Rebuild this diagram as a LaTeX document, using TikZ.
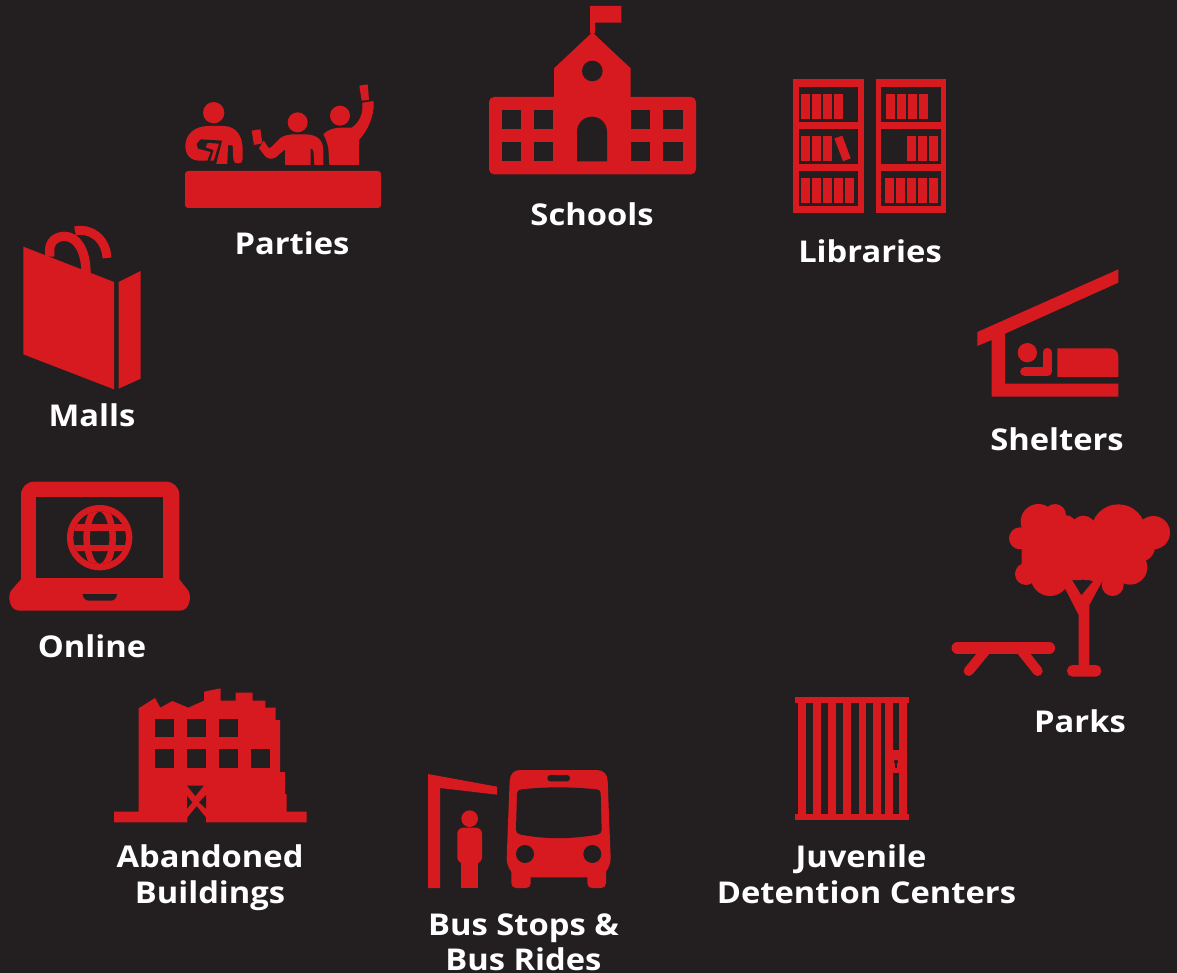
\documentclass[tikz,border=0pt]{standalone}
\usepackage{fontspec}
\setmainfont{Open Sans}[FakeStretch=1.09]
\definecolor{bgc}{RGB}{35,31,32}
\definecolor{redc}{RGB}{215,25,32}
\tikzset{
  x=1pt,y=-1pt,
  zoomat/.style 2 args={shift={(#1pt,-#2pt)},x=0.33333pt,y=-0.33333pt},
  rd/.style={fill=redc,draw=none},
  dk/.style={fill=bgc,draw=none},
  lbl/.style={text=white,font=\fontsize{30}{30}\selectfont\bfseries,anchor=base,inner sep=0pt,outer sep=0pt}
}
\begin{document}
\begin{tikzpicture}
\useasboundingbox (0,0) rectangle (1177,973);
\fill[bgc] (0,0) rectangle (1177,973);

% Schools
\begin{scope}[zoomat={480}{0}]
\path[rd] (330,18) -- (424,18) -- (424,68) -- (345,68) -- (345,100) -- (330,100) -- cycle;
\path[rd] (337,97) -- (452,205) -- (452,292) -- (222,292) -- (222,205) -- cycle;
\path[rd,rounded corners=5pt] (27,291) rectangle (648,523);
\path[dk] (337,213) circle (31);
\foreach \a in {66,162,453,550}{\foreach \b in {330,427}{
  \path[dk] (\a,\b) rectangle ++(58,57);}}
\path[dk] (291,484) -- (291,395) arc[start angle=180,end angle=360,x radius=45,y radius=45] -- (381,484) -- cycle;
\end{scope}

% Libraries
\begin{scope}[zoomat={780}{70}]
\foreach \o in {40,287}{
  \path[rd] (\o,28) rectangle ++(211,400);
  \foreach \b/\c in {50/155,178/281,303/407}{
    \path[dk] (\o+17,\b) rectangle (\o+195,\c);}}
\foreach \a in {63,96,129,162}{\path[rd] (\a,72) rectangle ++(27,75);}
\foreach \a in {63,96,129}{\path[rd] (\a,198) rectangle ++(27,75);}
\path[rd] (163,205) -- (187,197) -- (212,265) -- (189,274) -- cycle;
\foreach \a in {63,96,129,162,195}{\path[rd] (\a,324) rectangle ++(27,75);}
\foreach \a in {318,351,384,417}{\path[rd] (\a,72) rectangle ++(27,75);}
\foreach \a in {381,414,447}{\path[rd] (\a,198) rectangle ++(27,75);}
\foreach \a in {315,348,381,414,447}{\path[rd] (\a,324) rectangle ++(27,75);}
\end{scope}

% Shelters
\begin{scope}[zoomat={965}{260}]
\path[rd] (37,216) -- (460,28) -- (460,68) -- (120,221) -- (120,371) -- (460,371) -- (460,410) -- (80,410) -- (80,240) -- (37,258) -- cycle;
\path[rd] (187,278) circle (29);
\draw[redc,line width=9pt,line cap=round,line join=round] (179,336) -- (247,336) -- (247,277);
\path[rd] (277,351) -- (277,265) -- (435,265) .. controls (450,265) and (460,275) .. (460,290) -- (460,351) -- cycle;
\end{scope}

% Parks
\begin{scope}[zoomat={940}{490}]
\foreach \a/\b/\r in {295/95/53,345/75/33,375/110/35,240/145/33,258/252/33,330/260/58,430/115/38,535/125/82,640/128/50,570/232/52,518/285/33,600/170/45,400/225/45,470/225/50}{
  \path[rd] (\a,\b) circle (\r);}
\path[rd] (245,100) -- (600,100) -- (612,210) -- (560,270) -- (300,270) -- (245,225) -- cycle;
\path[dk] (404,284) -- (424,316) -- (443,280) -- (430,268) -- cycle;
\path[rd] (362,270) -- (416,375) -- (416,525) -- (448,525) -- (448,345) -- (490,268) -- (464,268) -- (424,316) -- (396,270) -- cycle;
\path[rd,rounded corners=5.5pt] (381,525) rectangle (484,560);
\draw[redc,line width=11.5pt,line cap=round] (52,474) -- (328,474);
\draw[redc,line width=10pt,line cap=round] (138,480) -- (86,543);
\draw[redc,line width=10pt,line cap=round] (243,480) -- (293,543);
\end{scope}

% Detention
\begin{scope}[zoomat={785}{690}]
\path[rd] (30,22) rectangle (372,40);
\path[rd] (30,372) rectangle (372,390);
\foreach \a/\b in {38/62,84/107,129/152,174/197,221/244,264/287,301/323,342/365}{
  \path[rd] (\a,30) rectangle (\b,380);}
\path[rd] (323,180) rectangle (342,248);
\path[dk] (333,215) circle (6);
\path[dk] (331,215) rectangle (335,233);
\end{scope}

% Bus
\begin{scope}[zoomat={420}{760}]
\path[rd] (24,42) -- (231,80) -- (231,104) -- (60,84) -- (60,384) -- (24,384) -- cycle;
\path[rd] (149,176) circle (25);
\path[rd,rounded corners=6pt] (112,203) rectangle (186,310);
\path[rd] (123,300) rectangle (175,384);
\path[rd] (300,30) -- (530,30) .. controls (550,30) and (562,42) .. (563,62) -- (572,295) .. controls (572,310) and (565,325) .. (558,335) -- (558,370) .. controls (558,378) and (552,384) .. (544,384) -- (516,384) .. controls (508,384) and (502,378) .. (502,370) -- (502,352) -- (332,352) -- (332,370) .. controls (332,378) and (326,384) .. (318,384) -- (288,384) .. controls (280,384) and (274,378) .. (274,370) -- (274,335) .. controls (266,325) and (260,310) .. (260,295) -- (269,62) .. controls (270,42) and (282,30) .. (300,30) -- cycle;
\path[dk] (305,88) .. controls (380,80) and (450,80) .. (530,88) .. controls (538,89) and (542,93) .. (542,100) -- (545,210) .. controls (545,217) and (540,222) .. (532,224) .. controls (450,238) and (380,238) .. (302,224) .. controls (293,222) and (288,217) .. (288,210) -- (291,100) .. controls (291,93) and (297,89) .. (305,88) -- cycle;
\path[dk,rounded corners=3pt] (382,45) rectangle (450,64);
\path[dk] (315,282) circle (27);
\path[dk] (517,282) circle (27);
\end{scope}

% Abandoned
\begin{scope}[zoomat={100}{680}]
\path[rd] (42,395) -- (116,395) -- (116,85) -- (165,54) -- (181,83) -- (217,63) -- (265,83) -- (312,62) -- (312,35) -- (362,25) -- (362,62) -- (407,62) -- (407,38) -- (458,38) -- (458,62) -- (496,62) -- (496,83) -- (527,83) -- (527,120) -- (540,120) -- (540,276) -- (555,276) -- (555,342) -- (560,342) -- (560,395) -- (620,395) -- (620,427) -- (318,427) -- (318,412) -- (290,378) -- (262,412) -- (262,427) -- (42,427) -- cycle;
\foreach \a in {165,261,357}{\path[dk] (\a,116) rectangle ++(57,56);}
\foreach \a in {165,261,357,453}{\path[dk] (\a,208) rectangle ++(57,57);}
\path[dk] (261,317) -- (311,317) -- (286,348) -- cycle;
\path[dk] (261,348) -- (277,367) -- (261,386) -- cycle;
\path[dk] (318,345) -- (297,367) -- (318,386) -- cycle;
\end{scope}

% Online
\begin{scope}[zoomat={0}{470}]
\path[rd] (63,75) .. controls (63,52) and (80,35) .. (103,35) -- (498,35) .. controls (521,35) and (538,52) .. (538,75) -- (538,328) -- (565,362) .. controls (575,378) and (570,422) .. (540,422) -- (58,422) .. controls (28,422) and (22,378) .. (33,362) -- (63,328) -- cycle;
\path[dk] (108,81) rectangle (490,325);
\path[dk] (248,372) -- (351,372) .. controls (350,385) and (342,392) .. (332,392) -- (267,392) .. controls (257,392) and (249,385) .. (248,372) -- cycle;
\path[rd] (299,203) circle (98);
\begin{scope}
\clip (299,203) circle (79);
\path[dk] (299,203) circle (79);
\draw[redc,line width=6.5pt] (299,203) ellipse [x radius=39,y radius=88];
\path[rd] (210,163) rectangle (390,182);
\path[rd] (210,225) rectangle (390,243);
\end{scope}
\end{scope}

% Malls
\begin{scope}[zoomat={10}{220}]
\path[rd] (40,80) -- (312,186) -- (312,508) -- (40,403) -- cycle;
\draw[redc,line width=9.3pt] (119,110) -- (119,90) .. controls (119,64) and (140,49) .. (163,49) .. controls (200,49) and (228,90) .. (228,160);
\draw[redc,line width=9pt] (195,33) .. controls (240,22) and (288,55) .. (291,114);
\path[rd] (326,186) -- (392,153) -- (392,476) -- (326,506) -- cycle;
\end{scope}

% Parties
\begin{scope}[zoomat={170}{70}]
\path[rd,rounded corners=3pt] (45,303) rectangle (633,414);
\path[rd] (131,128) circle (32);
\path[rd] (46,228) .. controls (46,195) and (72,168) .. (115,168) -- (160,168) .. controls (200,168) and (218,200) .. (218,238) -- (218,268) .. controls (218,285) and (190,285) .. (190,268) -- (188,226) -- (174,226) -- (172,282) -- (112,282) -- (115,272) -- (90,272) .. controls (62,272) and (46,255) .. (46,228) -- cycle;
\path[dk] (92,208) -- (156,212) -- (138,283) -- (108,283) -- (122,246) -- (84,236) -- (80,222) -- cycle;
\path[rd] (113,219) -- (147,221) -- (131,272) -- (121,272) -- (131,240) -- (107,232) -- cycle;
\end{scope}
\begin{scope}[zoomat={245}{80}]
\path[rd] (158,127) circle (30);
\path[rd] (20,152) -- (46,148) -- (52,190) -- (27,195) -- cycle;
\path[rd] (120,255) -- (120,208) -- (92,232) .. controls (78,240) and (66,235) .. (60,228) -- (42,205) -- (56,182) -- (72,205) -- (80,200) -- (105,175) .. controls (118,165) and (135,163) .. (150,163) -- (185,163) .. controls (225,165) and (235,190) .. (235,210) -- (235,255) -- (208,255) -- (206,220) .. controls (205,208) and (200,205) .. (197,205) -- (197,255) -- cycle;
\path[rd] (285,107) circle (30);
\path[rd] (343,17) -- (368,13) -- (372,60) -- (350,62) -- cycle;
\path[rd] (253,255) -- (250,205) .. controls (245,180) and (238,170) .. (235,163) .. controls (250,147) and (270,143) .. (290,143) -- (320,143) .. controls (345,125) and (355,100) .. (352,68) -- (385,63) .. controls (390,90) and (378,140) .. (342,180) -- (342,255) -- cycle;
\end{scope}

% Labels
\node[lbl] (schools) at (592,226) {Schools};
\node[lbl] (libraries) at (870,263) {Libraries};
\node[lbl] (shelters) at (1057,450) {Shelters};
\node[lbl] (parks) at (1080,732) {Parks};
\node[lbl] (juvenile) at (861,867) {Juvenile};
\node[lbl] (detention) at (866.5,903) {Detention Centers};
\node[lbl] (busstops) at (523.5,935) {Bus Stops \&};
\node[lbl] (busrides) at (523.5,970) {Bus Rides};
\node[lbl] (abandoned) at (210,867) {Abandoned};
\node[lbl] (buildings) at (210,903) {Buildings};
\node[lbl] (online) at (92,657) {Online};
\node[lbl] (malls) at (92,426) {Malls};
\node[lbl] (parties) at (292,255) {Parties};
\end{tikzpicture}
\end{document}
